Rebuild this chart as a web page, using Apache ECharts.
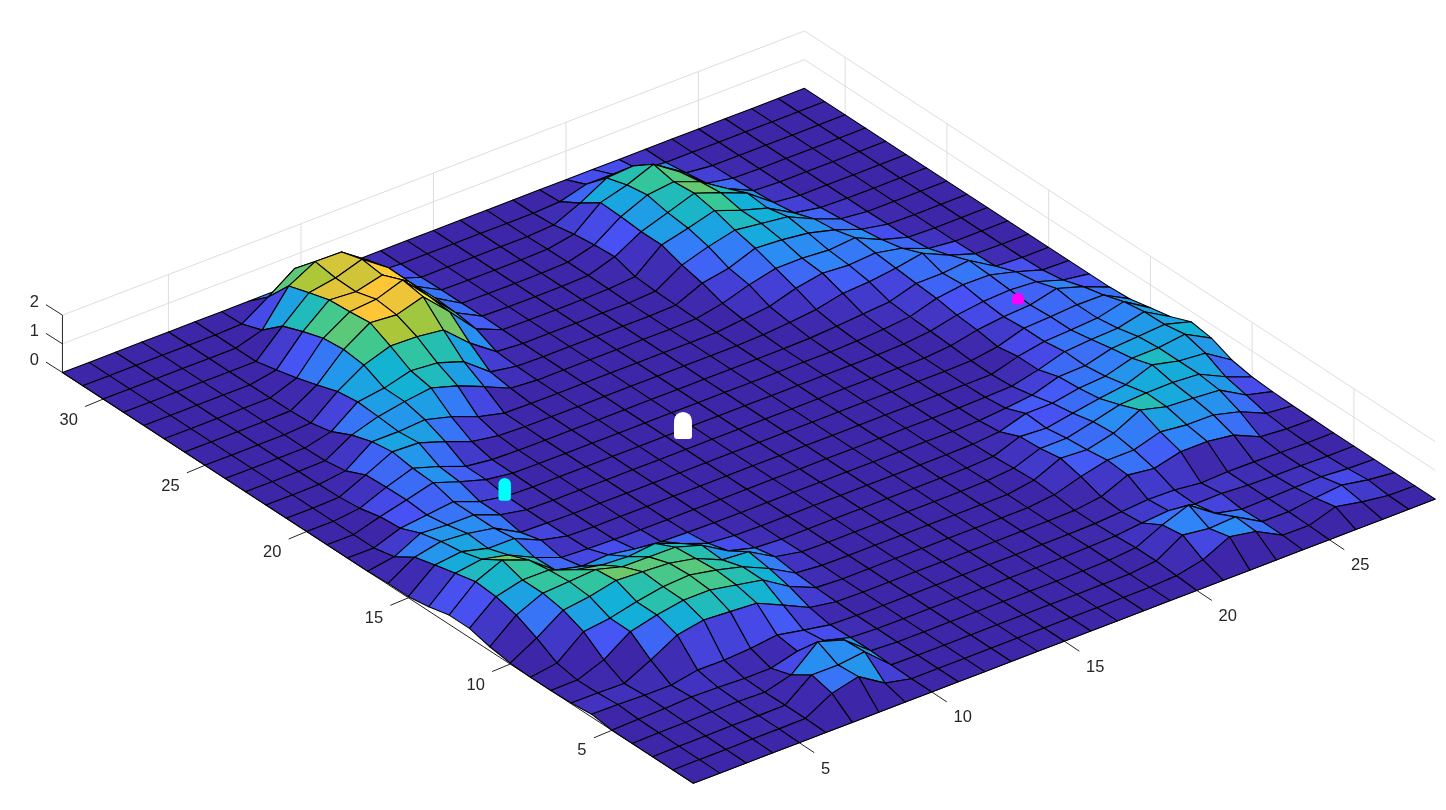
<!DOCTYPE html>
<html>
<head>
<meta charset="utf-8">
<style>html,body{margin:0;padding:0;background:#fff}#c{width:1446px;height:810px}</style>
<script src="https://cdn.jsdelivr.net/npm/echarts@6/dist/echarts.min.js"></script>
</head>
<body>
<div id="c"></div>
<script>
// Surface heights: one list per j (1..32), 29 values per list for i (1..29)
const j01=[0,0,0,0,0,0,0,0,0,0, 0,0,0,0,0,0,0,0,0, 0,0,0,0,0,0,0,0,0,0];
const j02=[0,.01,.01,.02,.02,.03,.55,.78,.2,0, 0,0,0,0,0,0,0,0,0, .05,.25,.7,.53,.05,.03,.33,.15,.02,0];
const j03=[0,.01,.02,.03,.02,.03,.73,.72,.83,.02, 0,0,0,0,0,0,0,0,0, .1,.65,.53,.58,.06,.05,.18,.27,.1,0];
const j04=[0,.02,.03,.05,.05,.02,.27,1.07,.78,.05, 0,0,0,0,0,0,0,0,.02, .1,.54,.88,.24,.03,.05,.08,.1,.03,0];
const j05=[0,.03,.05,.1,.08,.04,.04,.28,.3,.05, 0,0,0,0,0,0,0,0,.02, .05,.15,.22,.1,.12,.05,.03,.02,0,0];
const j06=[.1,.08,.05,.05,.22,.21,.27,.38,.2,.03, 0,0,0,0,0,0,0,0,0, .02,.08,.15,.13,.02,.06,.05,.02,0,0];
const j07=[.03,.02,0,.46,.98,1.15,1.09,1.03,.61,.17, .02,0,0,0,0,0,0,0,0, .02,.14,.54,.42,.65,.65,.52,.11,.03,.01];
const j08=[0,.01,.36,.99,1.22,1.38,1.38,1.2,1.02,.44, .05,0,0,0,0,0,0,0,0, .1,.38,.6,.6,.88,.77,.76,.52,.11,.02];
const j09=[0,.14,.88,1,1.22,1.39,1.44,1.26,1.02,.61, .1,.01,0,0,0,0,0,0,0, .15,.56,.5,.72,1.18,.94,.88,.81,.29,.05];
const j10=[.03,.55,1.17,1.29,1.5,1.45,1.39,1.2,.8,.73, .2,.02,0,0,0,0,0,0,.02, .1,.44,.44,.66,.9,.96,.97,.9,.46,.1];
const j11=[.14,.89,1.3,1.35,1.42,1.16,1.15,1.13,.85,.3, .05,0,0,0,0,0,0,0,0, .05,.39,.33,.5,.66,.78,1.12,.9,.82,.23];
const j12=[.32,1.07,1.3,1.29,.95,.76,.7,.8,.45,.1, .02,0,0,0,0,0,0,0,0, .02,.1,.38,.38,.55,.62,.89,.9,1.02,.53];
const j13=[.32,1.13,1.53,1.18,.48,.25,.3,.15,.05,.02, 0,0,0,0,0,0,0,0,0, 0,.02,.1,.2,.49,.52,.77,.83,.9,.64];
const j14=[.15,.96,1.1,.89,.45,.1,.05,.02,0,0, 0,0,0,0,0,0,0,0,0, 0,0,.02,.05,.27,.55,.62,.66,.88,.35];
const j15=[.04,.79,.9,.66,.65,.24,.03,0,0,0, 0,0,0,0,0,0,0,0,0, 0,0,0,0,.27,.44,.49,.55,.77,.2];
const j16=[.04,.6,.79,.72,.55,.05,.02,0,0,0, 0,0,0,0,0,0,0,0,0, 0,0,0,.02,.15,.44,.49,.55,.54,.05];
const j17=[0,.15,.62,.55,.55,.2,.02,0,0,0, 0,0,0,0,0,0,0,0,0, 0,0,0,.08,.27,.38,.44,.66,.37,0];
const j18=[0,0,.33,.44,.55,.2,.03,0,0,0, 0,0,0,0,0,0,0,0,0, 0,0,.03,.12,.33,.45,.5,.43,.14,0];
const j19=[0,0,.27,.5,.75,.43,.15,.02,0,0, 0,0,0,0,0,0,0,0,0, 0,.03,.08,.17,.45,.57,.56,.32,.03,0];
const j20=[0,0,.1,.48,.79,.5,.15,.03,0,0, 0,0,0,0,0,0,0,0,0, .02,.08,.15,.23,.51,.51,.6,.05,0,0];
const j21=[0,0,.03,.45,.9,.86,.55,.2,.05,.01, 0,0,0,0,0,0,0,0,.03, .1,.2,.41,.46,.58,.75,.33,.02,0,0];
const j22=[0,0,.01,.13,.79,.79,.85,.6,.25,.02, 0,0,0,0,0,0,0,0,.1, .2,.48,.65,.58,.65,.46,.1,0,0,0];
const j23=[0,0,0,.02,.56,.85,1.02,1.14,.86,.48, .07,0,0,0,0,0,0,.02,.2, .49,.71,.71,.64,.72,.3,.03,0,0,0];
const j24=[0,0,0,0,.22,.9,1.03,1.28,1.2,.89, .18,.02,0,0,0,0,0,.03,.44, .61,.95,.89,.77,.53,.2,.02,0,0,0];
const j25=[0,0,0,0,.06,.8,1.37,1.68,1.65,1.53, .72,.07,0,0,0,0,0,.05,.61, .9,1.12,1,.88,.45,.1,0,0,0,0];
const j26=[0,0,0,0,.02,.57,1.45,2.03,1.95,2.23, 1.35,.4,.02,0,0,0,.02,.1,.85, 1.08,1.34,1,.72,.2,.03,0,0,0,0];
const j27=[0,0,0,0,.01,.35,1.38,1.95,2.03,2.35, 1.42,.5,.03,0,0,0,.03,.33,.85, 1.16,1.48,1.15,.78,.1,0,0,0,0,0];
const j28=[0,0,0,0,0,.17,1.15,1.9,1.83,2.06, 1.48,.55,.02,0,0,0,.03,.28,.91, 1.31,1.42,1.07,.48,.05,0,0,0,0,0];
const j29=[0,0,0,0,0,0,.88,1.69,1.85,2.15, 1.5,.5,.02,0,0,0,.02,.19,.94, 1.2,1.57,.95,.2,.02,0,0,0,0,0];
const j30=[0,0,0,0,0,0,.28,1.46,1.96,1.94, 1.3,.3,0,0,0,0,0,.05,.46, .98,1.05,.7,.1,0,0,0,0,0,0];
const j31=[0,0,0,0,0,0,.03,.62,1.26,1.2, .5,.05,0,0,0,0,0,0,.05, .3,.3,.1,0,0,0,0,0,0,0];
const j32=[0,0,0,0,0,0,0,0,0,0, 0,0,0,0,0,0,0,0,0, 0,0,0,0,0,0,0,0,0,0];
const heights=[j01,j02,j03,j04,j05,j06,j07,j08,j09,j10,j11,j12,j13,j14,j15,j16,j17,j18,j19,j20,j21,j22,j23,j24,j25,j26,j27,j28,j29,j30,j31,j32];

const xTicks=[5,10,15,20,25];
const yTicks=[5,10,15,20,25,30];
const zTicks=[0,1,2];
const xRange=[1,29], yRange=[1,32], colorMax=2.35;

// Three marker columns standing on the surface: i, j, base z, top z
const markerI=[13.32,6.83,26.2];
const markerJ=[17.55,17.86,17.86];
const markerTop=[.63,.575,.19];
const markerColor=['#ffffff','#00ffff','#ff00ff'];
const markerW=[18,12.4,12];

// Orthographic view of the plot box, expressed on the pixel-sized hidden axes
const origin=[693.3,783.3], ex=[26.5,-10.15], ey=[-20.35,-13.25], ez=-28.7;
function proj(i,j,z){return [origin[0]+(i-1)*ex[0]+(j-1)*ey[0], origin[1]+(i-1)*ex[1]+(j-1)*ey[1]+z*ez];}

const parula=[[62,38,168],[72,82,244],[46,135,247],[18,177,214],[55,200,151],[171,199,57],[254,195,56],[249,251,21]];
function colorOf(z){
  let t=Math.max(0,Math.min(1,z/colorMax))*(parula.length-1);
  let k=Math.min(parula.length-2,Math.floor(t)), f=t-k;
  let c=parula[k].map((v,n)=>Math.round(v+(parula[k+1][n]-v)*f));
  return 'rgb('+c.join(',')+')';
}

// Cells painted back to front
const cells=[];
for(let j=yRange[1]-1;j>=yRange[0];j--)for(let i=xRange[1]-1;i>=xRange[0];i--)cells.push([i,j]);

const gridColor='#dedede', axisColor='#262626';
const wallLines=[];
zTicks.slice(1).forEach(z=>{
  wallLines.push([[xRange[0],yRange[1],z],[xRange[1],yRange[1],z]]);
  wallLines.push([[xRange[1],yRange[1],z],[xRange[1],yRange[0],z]]);
});
xTicks.forEach(x=>wallLines.push([[x,yRange[1],0],[x,yRange[1],2]]));
yTicks.forEach(y=>wallLines.push([[xRange[1],y,0],[xRange[1],y,2]]));

const axisLines=[
  [[xRange[0],yRange[0],0],[xRange[1],yRange[0],0]],
  [[xRange[0],yRange[0],0],[xRange[0],yRange[1],0]],
  [[xRange[0],yRange[1],0],[xRange[0],yRange[1],2]]
];
const labels=[];
xTicks.forEach(v=>labels.push({t:v,p:[v,yRange[0],0],tick:[15,10],lab:v<10?[26.4,26.3]:[31,26]}));
yTicks.forEach(v=>labels.push({t:v,p:[xRange[0],v,0],tick:[-18,7.5],lab:v<10?[-30,20.5]:[-34.5,21]}));
zTicks.forEach(v=>labels.push({t:v,p:[xRange[0],yRange[1],v],tick:[-16.5,-10.5],lab:[-28,-12.5]}));

function lineSeries(list,color,width){
  return {type:'custom',coordinateSystem:'cartesian2d',silent:true,animation:false,clip:false,
    data:list.map((l,n)=>[n]),
    renderItem(p,api){
      const l=list[api.value(0)];
      const a=api.coord(proj(...l[0])),b=api.coord(proj(...l[1]));
      return {type:'line',shape:{x1:a[0],y1:a[1],x2:b[0],y2:b[1]},style:{stroke:color,lineWidth:width}};
    }};
}

const option={
  animation:false,backgroundColor:'#fff',
  grid:{left:0,right:0,top:0,bottom:0},
  xAxis:{type:'value',min:0,max:1446,show:false},
  yAxis:{type:'value',min:0,max:810,inverse:true,show:false},
  series:[
    lineSeries(wallLines,gridColor,1),
    lineSeries(axisLines,axisColor,1),
    {type:'custom',coordinateSystem:'cartesian2d',silent:true,animation:false,clip:false,progressive:0,
      data:labels.map((l,n)=>[n]),
      renderItem(p,api){
        const l=labels[api.value(0)], a=api.coord(proj(...l.p));
        return {type:'group',children:[
          {type:'line',shape:{x1:a[0],y1:a[1],x2:a[0]+l.tick[0],y2:a[1]+l.tick[1]},style:{stroke:axisColor,lineWidth:1}},
          {type:'text',style:{text:String(l.t),x:a[0]+l.lab[0],y:a[1]+l.lab[1],align:'center',verticalAlign:'middle',
            font:'16.5px "Liberation Sans",Arial,sans-serif',fill:axisColor}}
        ]};
      }},
    {type:'custom',coordinateSystem:'cartesian2d',silent:true,animation:false,clip:false,progressive:0,
      data:cells,
      renderItem(p,api){
        const i=api.value(0),j=api.value(1);
        const h=(a,b)=>heights[b-1][a-1];
        const pts=[[i,j],[i+1,j],[i+1,j+1],[i,j+1]].map(q=>api.coord(proj(q[0],q[1],h(q[0],q[1]))));
        return {type:'polygon',shape:{points:pts},style:{fill:colorOf(h(i,j)),stroke:'#000',lineWidth:1.1,lineJoin:'round'}};
      }},
    {type:'custom',coordinateSystem:'cartesian2d',silent:true,animation:false,clip:false,
      data:markerI.map((v,n)=>[n]),
      renderItem(p,api){
        const n=api.value(0), w=markerW[n];
        const b=api.coord(proj(markerI[n],markerJ[n],0)), t=api.coord(proj(markerI[n],markerJ[n],markerTop[n]));
        const st={fill:markerColor[n]};
        return {type:'group',children:[
          {type:'circle',shape:{cx:t[0],cy:t[1],r:w/2},style:st},
          {type:'rect',shape:{x:t[0]-w/2,y:t[1],width:w,height:b[1]-t[1],r:3},style:st}
        ]};
      }}
  ]
};
const chart=echarts.init(document.getElementById('c'),null,{renderer:'canvas'});
chart.setOption(option);
</script>
</body>
</html>
